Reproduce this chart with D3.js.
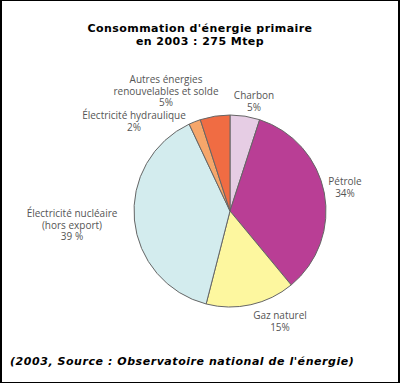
<!DOCTYPE html>
<html><head><meta charset="utf-8">
<script src="https://cdn.jsdelivr.net/npm/d3@7"></script>
<style>body{margin:0;background:#fff}svg{display:block}</style>
</head><body>
<script>
const categories = ["Charbon","Pétrole","Gaz naturel","Électricité nucléaire","Électricité hydraulique","Autres énergies renouvelables et solde"];
const values = [5,34,15,39,2,5];
const colors = ["#e6cde4","#b93e95","#fdf79f","#d3ecee","#f6a66a","#f06c43"];
const labelLines = [
  ["Charbon","5%"],
  ["Pétrole","34%"],
  ["Gaz naturel","15%"],
  ["Électricité nucléaire","(hors export)","39 %"],
  ["Électricité hydraulique","2%"],
  ["Autres énergies","renouvelables et solde","5%"]
];
const labelPos = [[254,99],[345,185],[280,319],[72,217],[134,119],[166,83]];
const titleLines = ["Consommation d'énergie primaire","en 2003 : 275 Mtep"];
const sourceText = "(2003, Source : Observatoire national de l'énergie)";

const W=400,H=383;
const svg=d3.select("body").append("svg").attr("width",W).attr("height",H);
svg.append("rect").attr("width",W).attr("height",H).attr("fill","#fff");
// frame
svg.append("rect").attr("x",0).attr("y",0).attr("width",2).attr("height",H).attr("fill","#000");
svg.append("rect").attr("x",W-2).attr("y",0).attr("width",2).attr("height",H).attr("fill","#000");
svg.append("rect").attr("x",0).attr("y",0).attr("width",W).attr("height",1).attr("fill","#000");
svg.append("rect").attr("x",0).attr("y",H-1).attr("width",W).attr("height",1).attr("fill","#000");

svg.append("g").selectAll("text").data(titleLines).join("text")
  .attr("x",200).attr("y",(d,i)=>32+i*13).attr("text-anchor","middle")
  .attr("font-family","DejaVu Sans").attr("font-weight","bold").attr("font-size",11)
  .attr("letter-spacing",0.45)
  .attr("fill","#000").text(d=>d);

const pie=d3.pie().sort(null).value(d=>d);
const arc=d3.arc().innerRadius(0).outerRadius(96);
const g=svg.append("g").attr("transform","translate(230,211)");
g.selectAll("path").data(pie(values)).join("path")
  .attr("d",arc).attr("fill",(d,i)=>colors[i]).attr("stroke","#666").attr("stroke-width",1);

const lg=svg.append("g").attr("font-family","Open Sans").attr("font-size",10).attr("fill","#555").attr("text-anchor","middle");
labelLines.forEach((lines,i)=>{
  lg.append("text").selectAll("tspan").data(lines).join("tspan")
    .attr("x",labelPos[i][0]).attr("y",(d,j)=>labelPos[i][1]+j*11.5).text(d=>d);
});

svg.append("text").attr("x",10).attr("y",365)
  .attr("font-family","DejaVu Sans").attr("font-style","italic").attr("font-weight","bold").attr("font-size",11)
  .attr("letter-spacing",0.55)
  .attr("fill","#000").text(sourceText);
</script>
</body></html>
